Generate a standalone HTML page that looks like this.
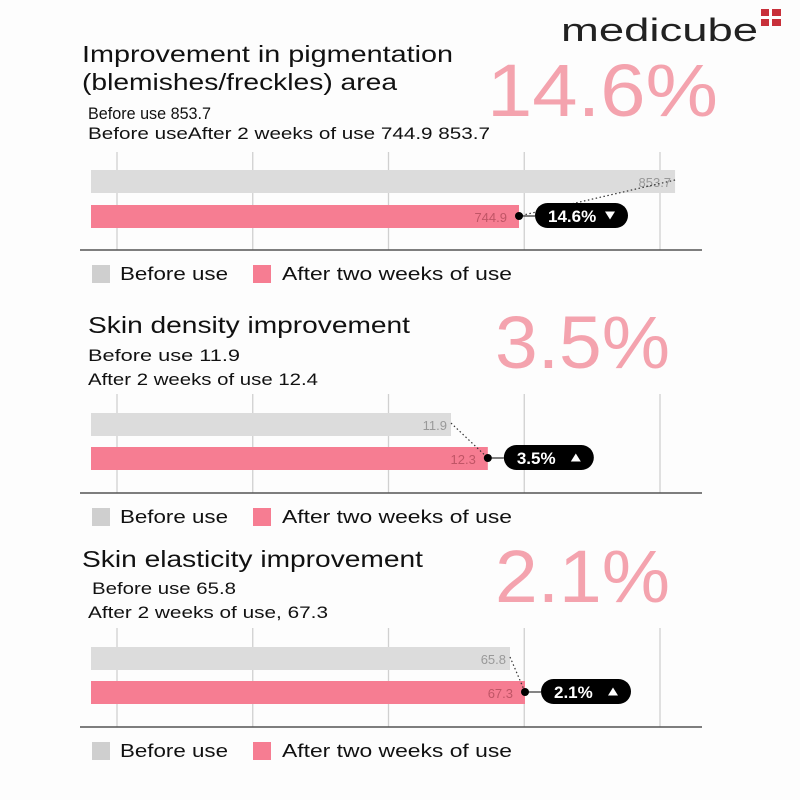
<!DOCTYPE html>
<html><head><meta charset="utf-8"><style>
body{margin:0;background:#fff;}
svg text{font-family:"Liberation Sans",sans-serif;}
</style></head><body>
<svg width="800" height="800" viewBox="0 0 800 800" xmlns="http://www.w3.org/2000/svg">
<rect width="800" height="800" fill="#fdfdfd"/>
<g>
<text x="561" y="41" font-size="32" fill="#222" textLength="197" lengthAdjust="spacingAndGlyphs">medicube</text>
<rect x="761" y="9" width="20" height="17" fill="#c8303a"/>
<rect x="769" y="9" width="3" height="17" fill="#fff"/>
<rect x="761" y="16" width="20" height="3" fill="#fff"/>
</g>
<g id="charts"></g>
</svg>
<script>
const titles=[["Improvement in pigmentation","(blemishes/freckles) area"],["Skin density improvement"],["Skin elasticity improvement"]];
const subLines=[["Before use 853.7","Before useAfter 2 weeks of use  744.9 853.7"],["Before use   11.9","After 2 weeks of use 12.4"],["Before use 65.8","After 2 weeks of use, 67.3"]];
const bigPct=["14.6%","3.5%","2.1%"];
const beforeVals=[853.7,11.9,65.8];
const afterVals=[744.9,12.3,67.3];
const changeLabels=["14.6%","3.5%","2.1%"];
const changeDir=["down","up","up"];
const domains=[[446.5,843.2],[7.99,14.17],[23.9,80.8]];
const legendLabels=["Before use","After two weeks of use"];

const NS="http://www.w3.org/2000/svg";
const root=document.getElementById('charts');
function mk(tag,attrs,parent){const e=document.createElementNS(NS,tag);for(const k in attrs)e.setAttribute(k,attrs[k]);(parent||root).appendChild(e);return e;}
const X0=91,X1=660;
const layout=[
 {titleY:[62,90],titleX:[82,82],titleW:[371,315],subX:[88,88],subY:[119,139],subW:[123,402],bigY:116,bigX:487,bigW:231,gridTop:152,grayY:170,pinkY:205,base:250,legY:274},
 {titleY:[333],titleX:[88],titleW:[322],subX:[88,88],subY:[361,385],subW:[152,230],bigY:368,bigX:495,bigW:175,gridTop:394,grayY:413,pinkY:447,base:493,legY:517},
 {titleY:[567],titleX:[82],titleW:[341],subX:[92,88],subY:[594,618],subW:[144,240],bigY:602,bigX:495,bigW:175,gridTop:628,grayY:647,pinkY:681,base:727,legY:751}
];
for(let i=0;i<3;i++){
  const L=layout[i];
  const g=mk('g',{});
  
  
  const [dmin,dmax]=domains[i];
  const xs=v=>X0+(v-dmin)/(dmax-dmin)*(X1-X0);
  titles[i].forEach((t,j)=>{const e=mk('text',{x:L.titleX[j],y:L.titleY[j],'font-size':23,fill:'#111',textLength:L.titleW[j],lengthAdjust:'spacingAndGlyphs'},g);e.textContent=t;
    
    });
  subLines[i].forEach((t,j)=>{const e=mk('text',{x:L.subX[j],y:L.subY[j],'font-size':17,fill:'#111','xml:space':'preserve',textLength:L.subW[j],lengthAdjust:'spacingAndGlyphs'},g);e.textContent=t;
    
    });
  const b=mk('text',{x:L.bigX,y:L.bigY,'font-size':74,fill:'#f4a3ae',textLength:L.bigW,lengthAdjust:'spacingAndGlyphs'},g);b.textContent=bigPct[i];
  
  
  for(let k=0;k<5;k++){const gx=117+k*135.75;const l=mk('line',{x1:gx,x2:gx,y1:L.gridTop,y2:L.base,stroke:'#d0d0d0','stroke-width':1.3},g);
    
    }
  const ax=mk('line',{x1:80,x2:702,y1:L.base,y2:L.base,stroke:'#555','stroke-width':1.5},g);
  
  
  const gx2=xs(beforeVals[i]),px=xs(afterVals[i]);
  const gb=mk('rect',{x:X0,y:L.grayY,width:gx2-X0,height:23,fill:'#dcdcdc'},g);
  
  
  const pb=mk('rect',{x:X0,y:L.pinkY,width:px-X0,height:23,fill:'#f67d92'},g);
  
  
  const t1=mk('text',{x:gx2-4,y:L.grayY+17,'font-size':13,fill:'#999','text-anchor':'end'},g);t1.textContent=beforeVals[i];
  
  
  const t2=mk('text',{x:px-12,y:L.pinkY+17,'font-size':13,fill:'#c05566','text-anchor':'end'},g);t2.textContent=afterVals[i];
  
  
  const bw=changeLabels[i].length>4?93:90, bx=px+16, by=L.pinkY-2;
  mk('line',{x1:gx2,y1:L.grayY+10,x2:px,y2:L.pinkY+11,stroke:'#333','stroke-width':1.2,'stroke-dasharray':'1.5,2.5'},g);
  mk('line',{x1:px,y1:L.pinkY+11,x2:bx,y2:L.pinkY+11,stroke:'#333','stroke-width':1.2},g);
  mk('circle',{cx:px,cy:L.pinkY+11,r:4,fill:'#000'},g);
  const pill=mk('rect',{x:bx,y:by,width:bw,height:25,rx:12.5,fill:'#000'},g);
  
  
  const pt=mk('text',{x:bx+13,y:by+19,'font-size':17,fill:'#fff','font-weight':'bold'},g);pt.textContent=changeLabels[i];
  const tx=bx+bw-18,ty=by+12.5;
  mk('path',{d:changeDir[i]==='down'?`M${tx-5},${ty-4}L${tx+5},${ty-4}L${tx},${ty+4}Z`:`M${tx-5},${ty+4}L${tx+5},${ty+4}L${tx},${ty-4}Z`,fill:'#fff'},g);
  const lg=mk('g',{},g);
  
  
  mk('rect',{x:92,y:L.legY-9,width:18,height:18,fill:'#cfcfcf'},lg);
  const l1=mk('text',{x:120,y:L.legY+6,'font-size':18,fill:'#111',textLength:108,lengthAdjust:'spacingAndGlyphs'},lg);l1.textContent=legendLabels[0];
  mk('rect',{x:253,y:L.legY-9,width:18,height:18,fill:'#f67d92'},lg);
  const l2=mk('text',{x:282,y:L.legY+6,'font-size':18,fill:'#111',textLength:230,lengthAdjust:'spacingAndGlyphs'},lg);l2.textContent=legendLabels[1];
}
</script>
</body></html>
